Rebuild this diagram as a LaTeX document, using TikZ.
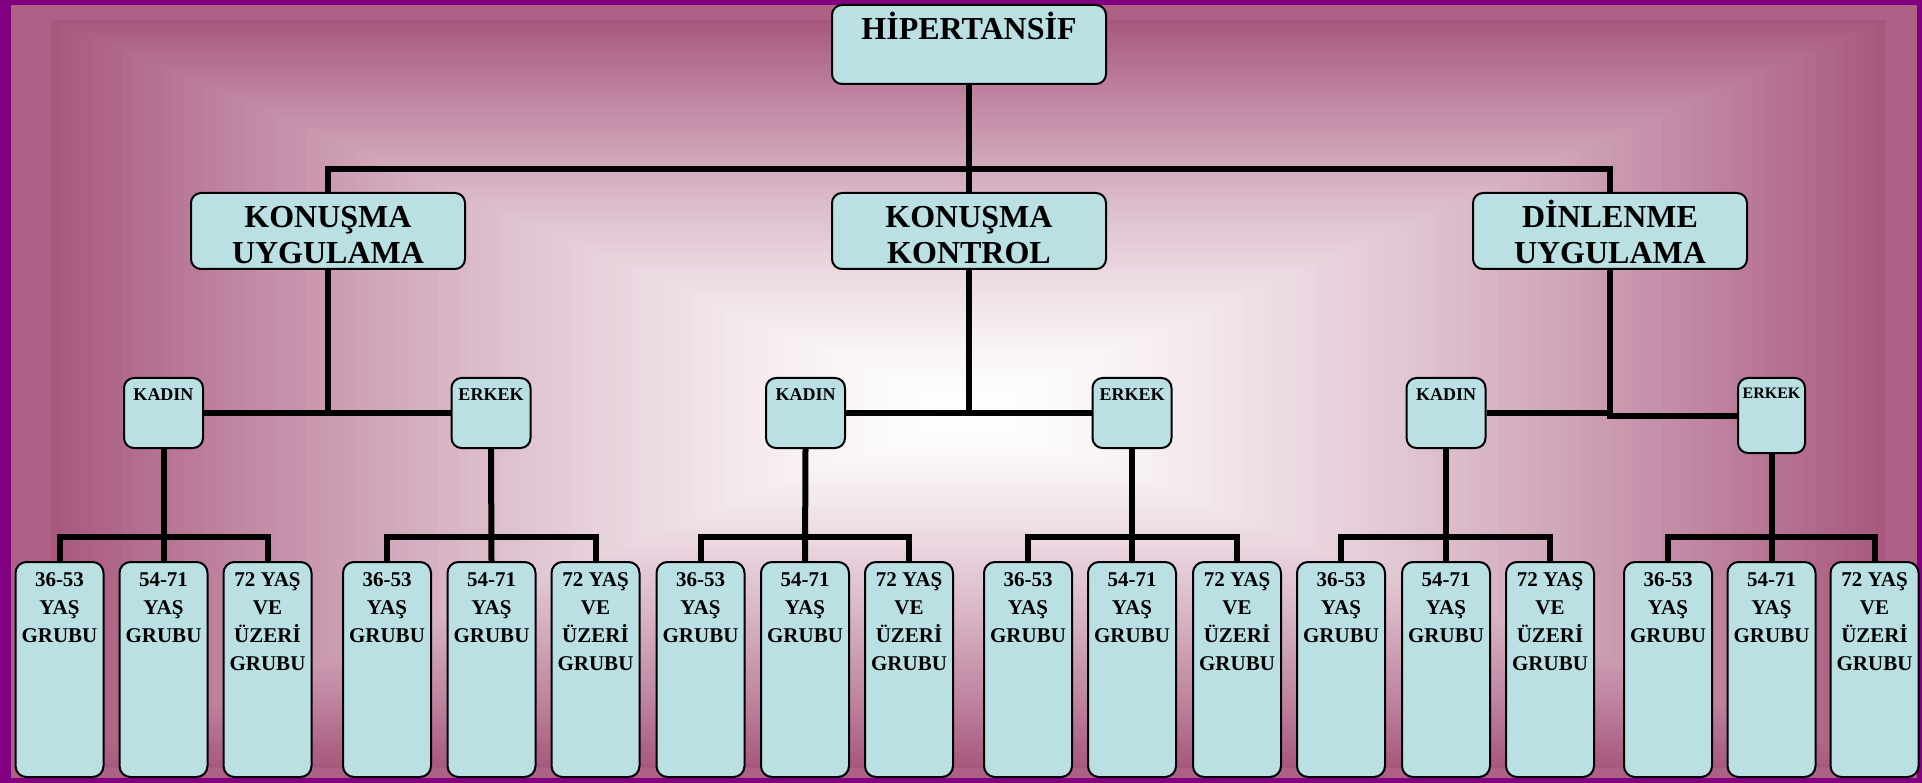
\documentclass[tikz,border=0pt]{standalone}
\usepackage{fontspec}
\setmainfont{Liberation Serif}
\definecolor{bgpink}{RGB}{168,88,126}
\definecolor{strippink}{RGB}{174,97,135}
\definecolor{framepurple}{RGB}{128,0,128}
\definecolor{boxfill}{RGB}{186,224,227}
\newcommand{\toptxt}[1]{\parbox[c][79pt][t]{274pt}{\centering\fontsize{32}{35.7}\selectfont\bfseries\rule{0pt}{35pt}#1}}
\newcommand{\midtxt}[1]{\parbox[c][76pt][t]{274pt}{\centering\fontsize{32}{35.7}\selectfont\bfseries\rule{0pt}{34.7pt}#1}}
\newcommand{\sextxt}[1]{\parbox[c][70pt][t]{79pt}{\centering\fontsize{18}{20}\selectfont\bfseries\rule{0pt}{22pt}#1}}
\newcommand{\sexsmall}[1]{\parbox[c][75pt][t]{67pt}{\centering\fontsize{16}{18}\selectfont\bfseries\rule{0pt}{20pt}#1}}
\newcommand{\agetxt}[1]{\parbox[c][215pt][t]{88pt}{\centering\fontsize{21}{28}\selectfont\bfseries\rule{0pt}{24.7pt}#1}}
\tikzset{
  box/.style={rectangle, draw=black, line width=2pt, fill=boxfill, rounded corners=10pt, inner sep=0pt},
  conn/.style={line width=6pt, black},
}
\begin{document}
\begin{tikzpicture}[x=1pt,y=-1pt]
\useasboundingbox (0,0) rectangle (1922,783);
% background
\fill[framepurple] (0,0) rectangle (1922,783);
\fill[strippink] (11,5) rectangle (1917,778);
\foreach \i in {0,...,90}{
  \pgfmathsetmacro\t{1-\i/90}
  \pgfmathsetmacro\pct{100*(\t)^1.45}
  \fill[bgpink!\pct!white] ({968-\t*917},{412-\t*392}) rectangle ({968+\t*918},{412+\t*356});
}
% level 1 and 2
\node[box] (H) at (969,44.5) {\toptxt{HİPERTANSİF}};
\node[box] (KU) at (328,231) {\midtxt{KONUŞMA\\UYGULAMA}};
\node[box] (KK) at (969,231) {\midtxt{KONUŞMA\\KONTROL}};
\node[box] (DU) at (1610,231) {\midtxt{DİNLENME\\UYGULAMA}};
% level 3
\node[box] (K1) at (163.5,413) {\sextxt{KADIN}};
\node[box] (E1) at (491,413) {\sextxt{ERKEK}};
\node[box] (K2) at (805.5,413) {\sextxt{KADIN}};
\node[box] (E2) at (1132,413) {\sextxt{ERKEK}};
\node[box] (K3) at (1446,413) {\sextxt{KADIN}};
\node[box] (E3) at (1771.5,415.5) {\sexsmall{ERKEK}};
% connectors level 1-3
\coordinate (busT) at (969,169);
\coordinate (busB) at (0,537);
\draw[conn] (H.south) -- (KK.north);
\draw[conn] (KU.north) |- (busT) -| (DU.north);
\draw[conn] (KU.south) -- (KU.south |- K1.east);
\draw[conn] (K1.east) -- (E1.west);
\draw[conn] (KK.south) -- (KK.south |- K2.east);
\draw[conn] (K2.east) -- (E2.west);
\draw[conn] (DU.south) |- (E3.west);
\draw[conn] (K3.east) -- (K3.east -| DU.south);
% age groups
\foreach \g/\xa/\xb/\xc/\p in {1/59.5/163.5/267.5/K1, 2/387/491.5/595.5/E1, 3/700.5/805/909/K2, 4/1028/1132/1237/E2, 5/1341/1446/1550/K3, 6/1668/1771.5/1874.5/E3}{
  \node[box,rounded corners=11pt] (a\g) at (\xa,669.5) {\agetxt{36-53\\YAŞ\\GRUBU}};
  \node[box,rounded corners=11pt] (b\g) at (\xb,669.5) {\agetxt{54-71\\YAŞ\\GRUBU}};
  \node[box,rounded corners=11pt] (c\g) at (\xc,669.5) {\agetxt{72 YAŞ\\VE\\ÜZERİ\\GRUBU}};
  \draw[conn] (\p.south) -- (b\g.north);
  \draw[conn] (a\g.north) -- (a\g.north |- busB) -- (c\g.north |- busB) -- (c\g.north);
}
\end{tikzpicture}
\end{document}
